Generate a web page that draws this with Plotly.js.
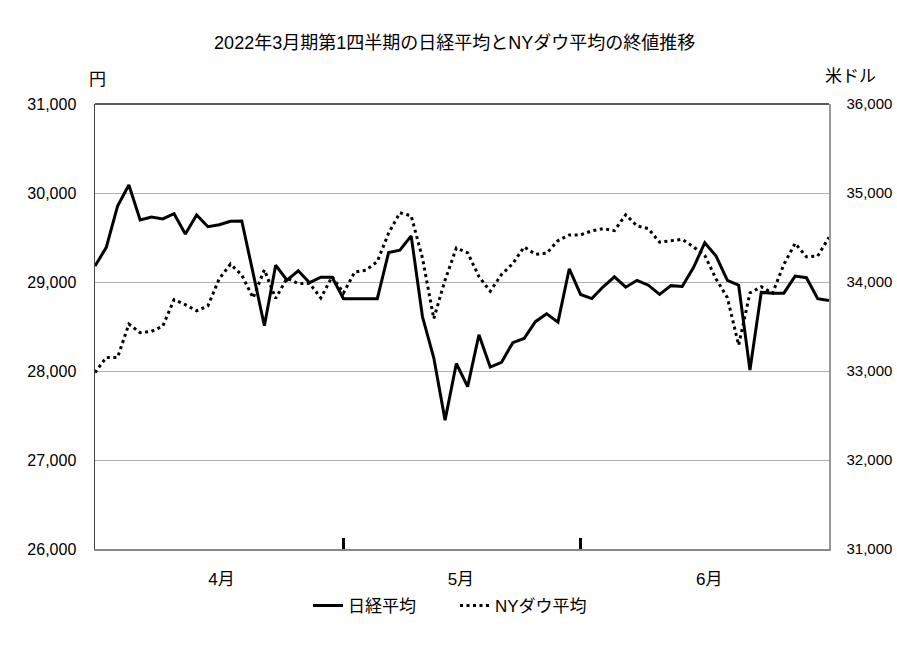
<!DOCTYPE html>
<html>
<head>
<meta charset="utf-8">
<script src="https://cdn.plot.ly/plotly-3.0.1.min.js"></script>
<style>html,body{margin:0;padding:0;background:#fff;}#chart{width:897px;height:664px;}</style>
</head>
<body>
<div id="chart"></div>
<script>
// Trading days (weekdays) 2021/3/31 - 2021/6/30; holidays carry the previous close
const dates = [
  "3/31",
  "4/1","4/2","4/5","4/6","4/7","4/8","4/9","4/12","4/13","4/14","4/15","4/16","4/19","4/20","4/21","4/22","4/23","4/26","4/27","4/28","4/29","4/30",
  "5/3","5/4","5/5","5/6","5/7","5/10","5/11","5/12","5/13","5/14","5/17","5/18","5/19","5/20","5/21","5/24","5/25","5/26","5/27","5/28","5/31",
  "6/1","6/2","6/3","6/4","6/7","6/8","6/9","6/10","6/11","6/14","6/15","6/16","6/17","6/18","6/21","6/22","6/23","6/24","6/25","6/28","6/29","6/30"
];
const nikkei = [
  29179,
  29389,29854,30089,29697,29731,29709,29768,29539,29752,29621,29643,29683,29685,29100,28509,29188,29021,29126,28992,29054,29054,28813,
  28813,28813,28813,29331,29358,29518,28609,28148,27448,28084,27825,28407,28044,28098,28318,28365,28554,28642,28549,29149,28860,
  28814,28946,29058,28942,29019,28964,28861,28959,28949,29162,29441,29291,29018,28964,28011,28884,28875,28875,29066,29048,28813,28792
];
const dow = [
  32982,
  33153,33153,33527,33430,33446,33504,33801,33745,33677,33731,34036,34201,34078,33821,34137,33816,34043,33982,33985,33820,34060,33875,
  34113,34133,34230,34549,34778,34743,34269,33588,34021,34382,34328,34061,33896,34084,34208,34394,34312,34323,34465,34529,34529,
  34575,34600,34577,34756,34630,34600,34447,34466,34480,34394,34299,34034,33823,33290,33877,33946,33874,34197,34434,34283,34292,34503
];
const monthLabels = ["4月","5月","6月"];
const monthLabelPos = [11.2, 32.4, 54.4];   // middle of each month's span (index units)
const monthBoundaries = [22, 43];            // last trading day of Apr / May
const leftTicks = [26000,27000,28000,29000,30000,31000];
const rightTicks = [31000,32000,33000,34000,35000,36000];
const seriesNames = ["日経平均","NYダウ平均"];

const idx = dates.map((d,i)=>i);
const FONT = "Liberation Sans, Noto Sans CJK JP, sans-serif";

const traces = [
  {x: idx, y: nikkei, name: seriesNames[0], type: "scatter", mode: "lines",
   text: dates, hovertemplate: "%{text}: %{y:,}円<extra></extra>",
   line: {color: "#000", width: 3}, yaxis: "y"},
  {x: idx, y: dow, name: seriesNames[1], type: "scatter", mode: "lines",
   text: dates, hovertemplate: "%{text}: %{y:,}ドル<extra></extra>",
   line: {color: "#000", width: 3, dash: "3px,3.5px"}, yaxis: "y2"}
];

const layout = {
  width: 897, height: 664,
  margin: {l: 95, r: 68, t: 104, b: 115},
  paper_bgcolor: "#fff", plot_bgcolor: "#fff",
  font: {family: FONT, size: 16, color: "#000"},
  title: {text: "2022年3月期第1四半期の日経平均とNYダウ平均の終値推移",
          font: {family: FONT, size: 18, color: "#000"},
          x: 0.49, xref: "paper", xanchor: "center", y: 0.935, yref: "container", yanchor: "middle"},
  showlegend: true,
  legend: {orientation: "h", x: (308-95)/734, xanchor: "left", y: -0.128, yanchor: "middle",
           font: {family: FONT, size: 17}, entrywidth: 102, entrywidthmode: "pixels", traceorder: "normal"},
  xaxis: {range: [0, 65], showgrid: false, zeroline: false, fixedrange: true,
          showline: true, linecolor: "#888", linewidth: 1.5,
          tickmode: "array", tickvals: monthLabelPos, ticktext: monthLabels, ticks: "",
          ticklabelstandoff: 14, tickfont: {family: FONT, size: 17},
          minor: {tickmode: "array", tickvals: monthBoundaries, ticks: "inside", ticklen: 11, tickwidth: 2.5, tickcolor: "#000", showgrid: false}},
  yaxis: {range: [26000, 31000], tickmode: "array", tickvals: leftTicks, tickformat: ",d",
          showgrid: true, gridcolor: "#b0b0b0", gridwidth: 1, zeroline: false,
          showline: true, linecolor: "#444", linewidth: 1.5, ticks: "", ticklabelstandoff: 14,
          tickfont: {family: FONT, size: 16}},
  yaxis2: {range: [31000, 36000], overlaying: "y", side: "right", tickmode: "array", tickvals: rightTicks, tickformat: ",d",
          showgrid: false, zeroline: false, showline: true, linecolor: "#999", linewidth: 1.5,
          ticks: "", ticklabelstandoff: 13, tickfont: {family: FONT, size: 15}},
  shapes: [
    {type: "line", xref: "x domain", yref: "y domain", x0: 0, x1: 1, y0: 1, y1: 1, line: {color: "#222", width: 1.5}}
  ],
  annotations: [
    {text: "円", xref: "paper", yref: "paper", x: (97-95)/734, y: (549-79)/445, xanchor: "center", yanchor: "middle",
     showarrow: false, font: {family: FONT, size: 17}},
    {text: "米ドル", xref: "paper", yref: "paper", x: (850-95)/734, y: (549-77)/445, xanchor: "center", yanchor: "middle",
     showarrow: false, font: {family: FONT, size: 17}}
  ]
};

Plotly.newPlot("chart", traces, layout, {displayModeBar: false, staticPlot: true});
</script>
</body>
</html>
